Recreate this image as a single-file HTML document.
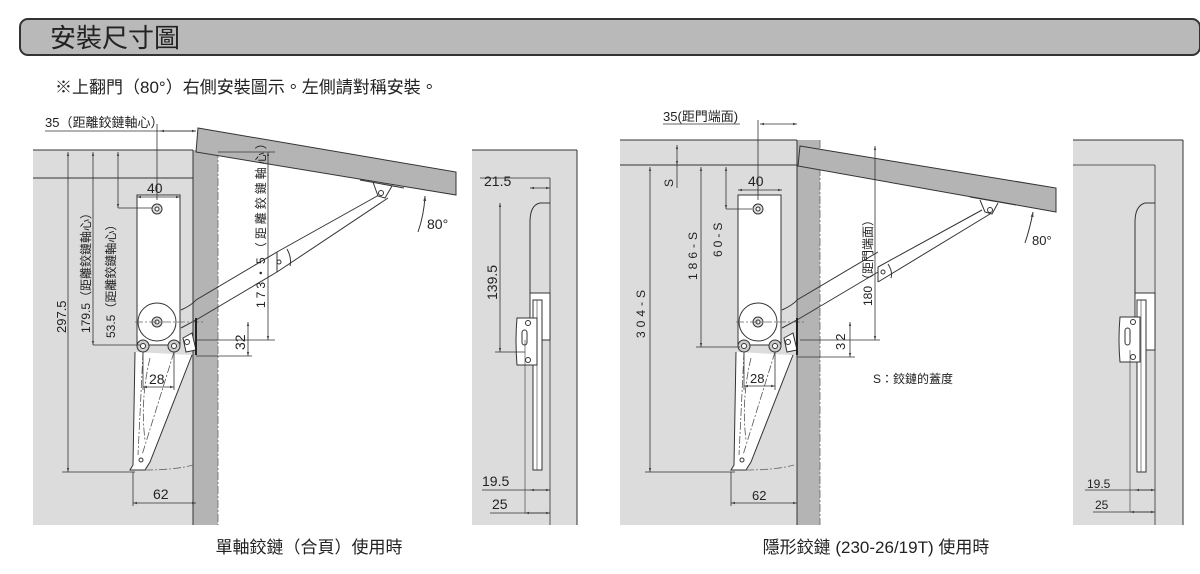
<!DOCTYPE html>
<html><head><meta charset="utf-8"><style>
body{margin:0;background:#fff;}
svg text{font-family:"Liberation Sans","Noto Sans CJK TC",sans-serif;fill:#222;}
</style></head><body>
<svg width="1200" height="569" viewBox="0 0 1200 569" xmlns="http://www.w3.org/2000/svg">
<defs>
<marker id="a" viewBox="0 0 10 10" refX="10" refY="5" markerWidth="5" markerHeight="5" orient="auto-start-reverse"><path d="M0,2 L10,5 L0,8z" fill="#444"/></marker>
<g id="hinge">
  <line x1="157" y1="185" x2="157" y2="345" stroke="#666" stroke-width="0.8" stroke-dasharray="8,2,2,2"/>
  <rect x="137" y="195" width="43" height="150" fill="#fff" stroke="#333" stroke-width="1"/>
  <circle cx="157" cy="209" r="5" fill="#ddd" stroke="#333"/><circle cx="157" cy="209" r="2" fill="#fff" stroke="#333"/>
  <path d="M181,310 Q192,305 196,300 L277,252 M181,328 L196,320 L277,272" fill="none" stroke="#333"/>
  <circle cx="157" cy="322" r="19" fill="#fff" stroke="#333"/>
  <circle cx="157" cy="322" r="5" fill="#ddd" stroke="#333"/><circle cx="157" cy="322" r="2" fill="#fff" stroke="#333"/>
  <line x1="135" y1="322" x2="205" y2="322" stroke="#666" stroke-width="0.8" stroke-dasharray="8,2,2,2"/>
  <circle cx="143" cy="346" r="6" fill="#ccc" stroke="#333"/><circle cx="143" cy="346" r="2.5" fill="#fff" stroke="#333"/>
  <circle cx="174" cy="346" r="6" fill="#ccc" stroke="#333"/><circle cx="174" cy="346" r="2.5" fill="#fff" stroke="#333"/>
  <path d="M183,338 L192,333 L196,350 L186,352z" fill="#fff" stroke="#333"/>
  <circle cx="187" cy="342" r="2.5" fill="#fff" stroke="#333"/>
  <path d="M135,352 L133,465 L130,470 L145,470 L150,462 L192,355" fill="#fff" stroke="#333"/>
  <path d="M143,352 L138,455 M174,352 L142,455 M150,358 Q140,400 145,440" fill="none" stroke="#555" stroke-dasharray="8,2,2,2" stroke-width="0.8"/>
  <circle cx="141" cy="460" r="2" fill="#fff" stroke="#333"/>
  <path d="M145,470 Q175,470 193,465" fill="none" stroke="#666" stroke-dasharray="8,2,2,2" stroke-width="0.8"/>
  <line x1="196" y1="318" x2="196" y2="355" stroke="#222" stroke-width="2"/>
</g>
</defs>

<!-- header -->
<rect x="20" y="19" width="1180" height="36" rx="8" fill="#b9b9b9" stroke="#333" stroke-width="2"/>
<text x="50" y="47" font-size="26">安裝尺寸圖</text>
<text x="55" y="93" font-size="17">※上翻門（80°）右側安裝圖示。左側請對稱安裝。</text>

<!-- ============ LEFT ============ -->
<rect x="33" y="150" width="160" height="375" fill="#dcdcdc"/>
<line x1="33" y1="150" x2="193" y2="150" stroke="#333"/>
<line x1="33" y1="178" x2="193" y2="178" stroke="#333"/>
<rect x="193" y="150" width="25" height="375" fill="#b4b4b4"/>
<line x1="193" y1="150" x2="193" y2="525" stroke="#333"/>
<line x1="218" y1="150" x2="218" y2="525" stroke="#666" stroke-dasharray="8,2,2,2" stroke-width="0.8"/>
<polygon points="198,128 456,172 456,195 196,152" fill="#b4b4b4" stroke="#333"/>
<use href="#hinge"/>
<path d="M277,252 L379,195 M277,272 L388,198" stroke="#333" fill="none"/>
<path d="M277,252 L277,272" stroke="#333"/><path d="M287,249 Q292,258 290,266" stroke="#333" fill="none"/>
<circle cx="279" cy="262" r="2" fill="#fff" stroke="#333"/>
<path d="M360,180 L404,188 M373,182 L378,196 L385,198 L392,186" fill="#fff" stroke="#333"/>
<circle cx="381" cy="193" r="2.5" fill="#fff" stroke="#333"/>
<path d="M425,196 Q424,215 418,232" fill="none" stroke="#333" marker-start="url(#a)"/>
<text x="427" y="229" font-size="14">80°</text>
<!-- dims left -->
<text x="45" y="127" font-size="13">35（距離鉸鏈軸心）</text>
<line x1="45" y1="131" x2="196" y2="131" stroke="#333" stroke-width="0.8"/>
<line x1="160" y1="131" x2="196" y2="131" stroke="#333" marker-start="url(#a)" marker-end="url(#a)" stroke-width="0.8"/>
<line x1="157" y1="124" x2="157" y2="200" stroke="#333" stroke-width="0.8"/>
<text x="147" y="193" font-size="14">40</text>
<line x1="137" y1="197" x2="180" y2="197" stroke="#333" stroke-width="0.8" marker-start="url(#a)" marker-end="url(#a)"/>
<line x1="68" y1="152" x2="68" y2="472" stroke="#333" stroke-width="0.8" marker-start="url(#a)" marker-end="url(#a)"/>
<line x1="62" y1="472" x2="135" y2="472" stroke="#333" stroke-width="0.8"/>
<line x1="93" y1="152" x2="93" y2="345" stroke="#333" stroke-width="0.8" marker-start="url(#a)" marker-end="url(#a)"/>
<line x1="93" y1="345" x2="140" y2="345" stroke="#333" stroke-width="0.8"/>
<line x1="118" y1="152" x2="118" y2="208" stroke="#333" stroke-width="0.8" marker-start="url(#a)" marker-end="url(#a)"/>
<line x1="118" y1="208" x2="152" y2="208" stroke="#333" stroke-width="0.8"/>
<text transform="translate(66,333) rotate(-90)" font-size="13">297.5</text>
<text transform="translate(90,333) rotate(-90)" font-size="12">179.5（距離鉸鏈軸心）</text>
<text transform="translate(115,338) rotate(-90)" font-size="12">53.5（距離鉸鏈軸心）</text>
<line x1="268" y1="152" x2="268" y2="340" stroke="#333" stroke-width="0.8" marker-start="url(#a)" marker-end="url(#a)"/>
<line x1="218" y1="152" x2="275" y2="152" stroke="#333" stroke-width="0.8"/>
<line x1="196" y1="340" x2="275" y2="340" stroke="#333" stroke-width="0.8"/>
<text transform="translate(265,308) rotate(-90)" font-size="12" letter-spacing="3">173・5（距離鉸鏈軸心）</text>
<line x1="248" y1="322" x2="248" y2="356" stroke="#333" stroke-width="0.8" marker-start="url(#a)" marker-end="url(#a)"/>
<line x1="196" y1="356" x2="252" y2="356" stroke="#333" stroke-width="0.8"/>
<text transform="translate(245,350) rotate(-90)" font-size="14">32</text>
<line x1="143" y1="352" x2="143" y2="390" stroke="#333" stroke-width="0.8"/>
<line x1="174" y1="352" x2="174" y2="390" stroke="#333" stroke-width="0.8"/>
<line x1="143" y1="387" x2="174" y2="387" stroke="#333" stroke-width="0.8" marker-start="url(#a)" marker-end="url(#a)"/>
<text x="149" y="384" font-size="14">28</text>
<line x1="133" y1="472" x2="133" y2="506" stroke="#333" stroke-width="0.8"/>
<line x1="133" y1="503" x2="196" y2="503" stroke="#333" stroke-width="0.8" marker-start="url(#a)" marker-end="url(#a)"/>
<text x="153" y="499" font-size="14">62</text>
<!-- side view left -->
<rect x="472" y="150" width="105" height="375" fill="#dcdcdc"/>
<line x1="472" y1="150" x2="577" y2="150" stroke="#333"/>
<line x1="577" y1="150" x2="577" y2="525" stroke="#333"/>
<line x1="550" y1="178" x2="550" y2="525" stroke="#333" stroke-width="0.8"/>
<path d="M550,203 L540,203 Q530,205 530,222 L530,330" fill="none" stroke="#333"/>
<path d="M530,293 L550,293 L550,340 L530,340z" fill="#fff" stroke="#333"/>
<rect x="533" y="300" width="9" height="170" fill="#fff" stroke="#333"/>
<line x1="537" y1="300" x2="537" y2="470" stroke="#333" stroke-width="0.6"/>
<path d="M517,318 L537,318 L537,365 L517,365 Q515,340 517,318z" fill="#fff" stroke="#333"/>
<rect x="522" y="330" width="5" height="15" rx="2.5" fill="#fff" stroke="#333"/>
<circle cx="528" cy="323" r="2.5" fill="#fff" stroke="#333"/><circle cx="528" cy="360" r="2.5" fill="#fff" stroke="#333"/>
<text x="484" y="186" font-size="14">21.5</text>
<line x1="480" y1="178" x2="550" y2="178" stroke="#333" stroke-width="0.8"/>
<line x1="530" y1="188" x2="550" y2="188" stroke="#333" stroke-width="0.8" marker-start="url(#a)" marker-end="url(#a)"/>
<line x1="500" y1="203" x2="500" y2="352" stroke="#333" stroke-width="0.8" marker-start="url(#a)" marker-end="url(#a)"/>
<line x1="495" y1="352" x2="525" y2="352" stroke="#333" stroke-width="0.8"/>
<text transform="translate(497,300) rotate(-90)" font-size="14">139.5</text>
<text x="482" y="486" font-size="14">19.5</text>
<line x1="482" y1="490" x2="550" y2="490" stroke="#333" stroke-width="0.8"/>
<line x1="530" y1="490" x2="550" y2="490" stroke="#333" stroke-width="0.8" marker-start="url(#a)" marker-end="url(#a)"/>
<text x="492" y="509" font-size="14">25</text>
<line x1="490" y1="513" x2="550" y2="513" stroke="#333" stroke-width="0.8"/>
<line x1="525" y1="513" x2="550" y2="513" stroke="#333" stroke-width="0.8" marker-start="url(#a)" marker-end="url(#a)"/>
<line x1="525" y1="340" x2="525" y2="513" stroke="#333" stroke-width="0.6"/>
<text x="309" y="553" font-size="17" text-anchor="middle">單軸鉸鏈（合頁）使用時</text>

<!-- ============ RIGHT ============ -->
<rect x="620" y="140" width="177" height="385" fill="#dcdcdc"/>
<line x1="620" y1="140" x2="797" y2="140" stroke="#333"/>
<line x1="620" y1="165" x2="797" y2="165" stroke="#333"/>
<rect x="797" y="140" width="23" height="385" fill="#b4b4b4"/>
<line x1="797" y1="140" x2="797" y2="525" stroke="#333"/>
<line x1="820" y1="140" x2="820" y2="525" stroke="#666" stroke-dasharray="8,2,2,2" stroke-width="0.8"/>
<polygon points="800,146 1056,188 1056,212 798,166" fill="#b4b4b4" stroke="#333"/>
<g transform="translate(601,0)"><use href="#hinge"/></g>
<path d="M878,267 L982,210 M878,282 L990,214 M878,267 L878,282" stroke="#333" fill="none"/>
<path d="M888,264 Q893,272 891,278" stroke="#333" fill="none"/>
<circle cx="883" cy="272" r="2" fill="#fff" stroke="#333"/>
<path d="M970,197 L1016,205 M980,200 L985,212 L992,214 L998,203" fill="#fff" stroke="#333"/>
<circle cx="990" cy="210" r="2.5" fill="#fff" stroke="#333"/>
<path d="M1033,212 Q1030,228 1025,243" fill="none" stroke="#333" marker-start="url(#a)"/>
<text x="1032" y="245" font-size="13">80°</text>
<text x="663" y="121" font-size="13">35(距門端面)</text>
<line x1="663" y1="124" x2="740" y2="124" stroke="#333" stroke-width="0.8"/>
<line x1="760" y1="124" x2="797" y2="124" stroke="#333" stroke-width="0.8" marker-start="url(#a)" marker-end="url(#a)"/>
<line x1="758" y1="120" x2="758" y2="200" stroke="#333" stroke-width="0.8"/>
<text x="748" y="186" font-size="14">40</text>
<line x1="738" y1="190" x2="782" y2="190" stroke="#333" stroke-width="0.8" marker-start="url(#a)" marker-end="url(#a)"/>
<line x1="677" y1="145" x2="677" y2="165" stroke="#333" stroke-width="0.8" marker-start="url(#a)" marker-end="url(#a)"/>
<line x1="677" y1="165" x2="677" y2="188" stroke="#333" stroke-width="0.8"/>
<text transform="translate(673,187) rotate(-90)" font-size="12">S</text>
<line x1="650" y1="167" x2="650" y2="472" stroke="#333" stroke-width="0.8" marker-start="url(#a)" marker-end="url(#a)"/>
<line x1="645" y1="472" x2="735" y2="472" stroke="#333" stroke-width="0.8"/>
<text transform="translate(645,338) rotate(-90)" font-size="12" letter-spacing="4">304-S</text>
<line x1="701" y1="167" x2="701" y2="347" stroke="#333" stroke-width="0.8" marker-start="url(#a)" marker-end="url(#a)"/>
<line x1="696" y1="347" x2="740" y2="347" stroke="#333" stroke-width="0.8"/>
<text transform="translate(697,280) rotate(-90)" font-size="12" letter-spacing="4">186-S</text>
<line x1="726" y1="167" x2="726" y2="209" stroke="#333" stroke-width="0.8" marker-start="url(#a)" marker-end="url(#a)"/>
<line x1="726" y1="209" x2="752" y2="209" stroke="#333" stroke-width="0.8"/>
<text transform="translate(722,257) rotate(-90)" font-size="12" letter-spacing="3">60-S</text>
<line x1="875" y1="146" x2="875" y2="340" stroke="#333" stroke-width="0.8" marker-start="url(#a)" marker-end="url(#a)"/>
<line x1="800" y1="340" x2="880" y2="340" stroke="#333" stroke-width="0.8"/>
<text transform="translate(872,306) rotate(-90)" font-size="12">180（距門端面）</text>
<line x1="850" y1="322" x2="850" y2="357" stroke="#333" stroke-width="0.8" marker-start="url(#a)" marker-end="url(#a)"/>
<line x1="797" y1="357" x2="855" y2="357" stroke="#333" stroke-width="0.8"/>
<text transform="translate(845,350) rotate(-90)" font-size="13" letter-spacing="2">32</text>
<line x1="744" y1="352" x2="744" y2="390" stroke="#333" stroke-width="0.8"/>
<line x1="775" y1="352" x2="775" y2="390" stroke="#333" stroke-width="0.8"/>
<line x1="744" y1="386" x2="775" y2="386" stroke="#333" stroke-width="0.8" marker-start="url(#a)" marker-end="url(#a)"/>
<text x="750" y="383" font-size="13">28</text>
<line x1="731" y1="472" x2="731" y2="506" stroke="#333" stroke-width="0.8"/>
<line x1="731" y1="503" x2="797" y2="503" stroke="#333" stroke-width="0.8" marker-start="url(#a)" marker-end="url(#a)"/>
<text x="752" y="500" font-size="13">62</text>
<text x="873" y="383" font-size="12">S：鉸鏈的蓋度</text>
<!-- side view right -->
<rect x="1073" y="140" width="110" height="385" fill="#dcdcdc"/>
<line x1="1073" y1="140" x2="1183" y2="140" stroke="#333"/>
<line x1="1183" y1="140" x2="1183" y2="525" stroke="#333"/>
<line x1="1073" y1="165" x2="1155" y2="165" stroke="#333" stroke-width="0.8"/>
<line x1="1155" y1="165" x2="1155" y2="525" stroke="#333" stroke-width="0.8"/>
<path d="M1155,203 L1145,203 Q1135,206 1135,222 L1135,330" fill="none" stroke="#333"/>
<path d="M1135,293 L1155,293 L1155,350 L1135,350z" fill="#fff" stroke="#333"/>
<rect x="1137" y="300" width="9" height="172" fill="#fff" stroke="#333"/>
<line x1="1141" y1="300" x2="1141" y2="472" stroke="#333" stroke-width="0.6"/>
<path d="M1120,317 L1140,317 L1140,362 L1120,362 Q1118,340 1120,317z" fill="#fff" stroke="#333"/>
<rect x="1125" y="328" width="5" height="17" rx="2.5" fill="#fff" stroke="#333"/>
<circle cx="1133" cy="322" r="2.5" fill="#fff" stroke="#333"/><circle cx="1133" cy="357" r="2.5" fill="#fff" stroke="#333"/>
<text x="1087" y="488" font-size="12">19.5</text>
<line x1="1085" y1="490" x2="1155" y2="490" stroke="#333" stroke-width="0.8"/>
<line x1="1135" y1="490" x2="1155" y2="490" stroke="#333" stroke-width="0.8" marker-start="url(#a)" marker-end="url(#a)"/>
<text x="1095" y="509" font-size="12">25</text>
<line x1="1093" y1="512" x2="1155" y2="512" stroke="#333" stroke-width="0.8"/>
<line x1="1130" y1="512" x2="1155" y2="512" stroke="#333" stroke-width="0.8" marker-start="url(#a)" marker-end="url(#a)"/>
<line x1="1130" y1="350" x2="1130" y2="512" stroke="#333" stroke-width="0.6"/>
<text x="876" y="553" font-size="17" text-anchor="middle">隱形鉸鏈 (230-26/19T) 使用時</text>
</svg>
</body></html>
